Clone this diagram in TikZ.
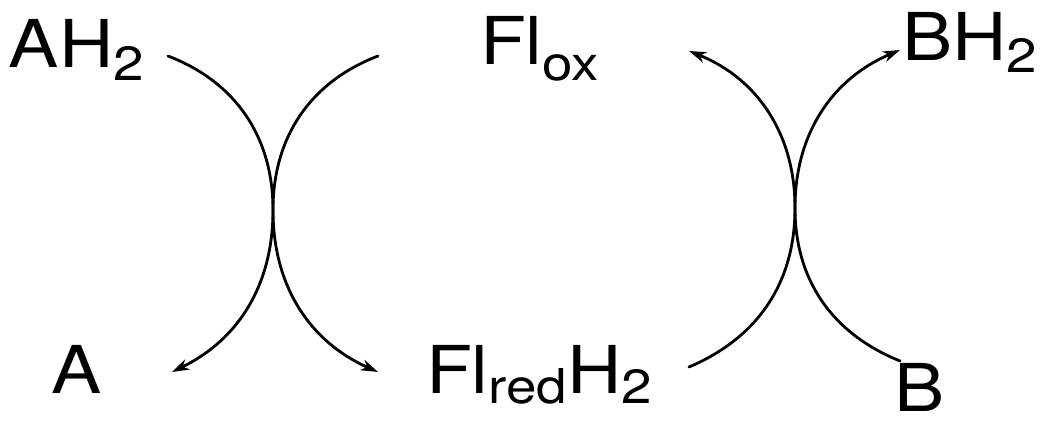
\documentclass[tikz,border=0pt]{standalone}
\usepackage{fontspec}
\setmainfont[FakeStretch=1.14]{TeX Gyre Heros}
\usetikzlibrary{arrows.meta}
\newcommand{\chsub}[2]{\raisebox{-#1pt}{\fontsize{48}{48}\selectfont #2}}
\begin{document}
\begin{tikzpicture}[x=1pt,y=1pt,
  lbl/.style={anchor=base west,inner sep=0pt,outer sep=0pt,font=\fontsize{66}{70}\selectfont},
  conn/.style={line width=2.8pt,line cap=round},
  tip/.style={-{Stealth[length=17pt,width=11pt,inset=5pt]}}]
\useasboundingbox (0,0) rectangle (1045,421);
% labels
\node[lbl] (ah2) at (9,353) {AH\chsub{13}{2}};
\node[lbl] (flox) at (480,356) {Fl\chsub{16}{ox}};
\node[lbl] (bh2) at (902,360) {BH\chsub{12}{2}};
\node[lbl] (a) at (51,28) {A};
\node[lbl] (flred) at (426,28) {Fl\chsub{10}{red}H\chsub{10}{2}};
\node[lbl] (b) at (894,10) {B};
% connector end points
\coordinate (s1) at (168,365);
\coordinate (x1) at (273,211);
\coordinate (e1) at (172,49);
\coordinate (s2) at (378,365);
\coordinate (e2) at (378,49);
\coordinate (s3) at (689,54);
\coordinate (x2) at (795,213);
\coordinate (e3) at (689,370);
\coordinate (s4) at (900,60);
\coordinate (e4) at (900,371);
% left pair
\draw[conn,tip] (s1) to[out=-21,in=90] (x1) to[out=-90,in=26] (e1);
\draw[conn,tip] (s2) to[out=-159,in=90] (x1) to[out=-90,in=156] (e2);
% right pair
\draw[conn,tip] (s3) to[out=23,in=-90] (x2) to[out=90,in=-22] (e3);
\draw[conn,tip] (s4) to[out=158,in=-90] (x2) to[out=90,in=-157] (e4);
\end{tikzpicture}
\end{document}
